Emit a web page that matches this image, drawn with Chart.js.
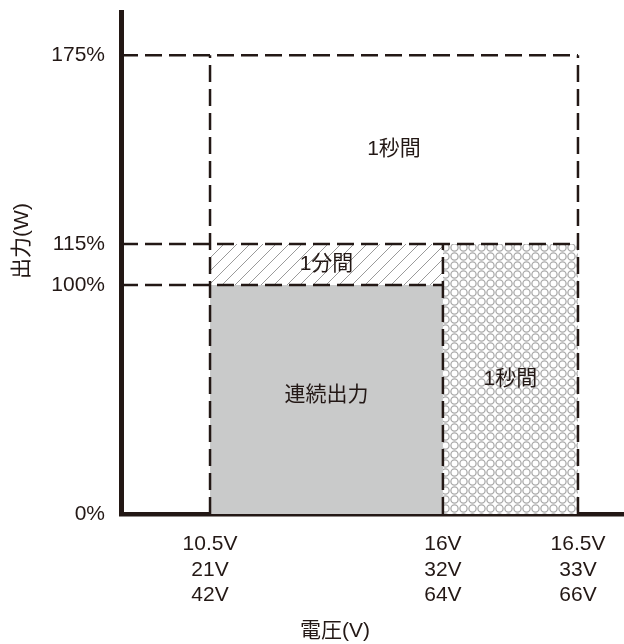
<!DOCTYPE html>
<html>
<head>
    <meta charset="utf-8" />
    <title>出力特性</title>
    <script src="https://cdn.jsdelivr.net/npm/chart.js@4.4.1/dist/chart.umd.min.js"></script>
    <style>
        body { margin: 0; background: #fff; }
        #chart { display: block; }
    </style>
</head>
<body>
    <canvas id="chart" width="624" height="644"></canvas>
    <script>
        // ticks: voltage (12V / 24V / 48V models) and output
        const voltTicks = [10.5, 16, 16.5];
        const voltLabels = [["10.5V", "21V", "42V"], ["16V", "32V", "64V"], ["16.5V", "33V", "66V"]];
        const powerTicks = [0, 100, 115, 175];
        const powerLabels = ["0%", "100%", "115%", "175%"];

        // zones: [x from, x to, y from, y to]
        const continuousZone = [10.5, 16, 0, 100];
        const oneMinuteZone = [10.5, 16, 100, 115];
        const highVoltZone = [16, 16.5, 0, 115];
        const peakZone = [10.5, 16.5, 115, 175];
        const zoneLabels = ["連続出力", "1分間", "1秒間", "1秒間"];

        const X_MIN = 9, X_MAX = 17.5, Y_MIN = 0, Y_MAX = 190;

        // dashed guide lines [x1, y1, x2, y2]
        const guides = [
            [X_MIN, 175, 16.5, 175],
            [X_MIN, 115, 16.5, 115],
            [X_MIN, 100, 16, 100],
            [10.5, 0, 10.5, 175],
            [16, 0, 16, 115],
            [16.5, 0, 16.5, 175]
        ];

        const INK = '#231815';

        // the drawing's axes are not linear: each scale maps values by stops (value -> fraction of axis)
        const scaleStops = {
            x: [[X_MIN, 0], [10.5, 0.177], [16, 0.640], [16.5, 0.9085], [X_MAX, 1]],
            y: [[Y_MIN, 0], [100, 0.456], [115, 0.538], [175, 0.914], [Y_MAX, 1]]
        };
        const scaleTicks = { x: voltTicks, y: powerTicks };

        class PiecewiseScale extends Chart.LinearScale {
            determineDataLimits() {
                const s = scaleStops[this.id];
                this.min = s[0][0];
                this.max = s[s.length - 1][0];
            }
            buildTicks() {
                return scaleTicks[this.id].map(v => ({ value: v }));
            }
            getPixelForValue(v) {
                const s = scaleStops[this.id];
                let i = 1;
                while (i < s.length - 1 && v > s[i][0]) i++;
                const [v0, f0] = s[i - 1], [v1, f1] = s[i];
                return this.getPixelForDecimal(f0 + (v - v0) / (v1 - v0) * (f1 - f0));
            }
            getValueForPixel(p) {
                const s = scaleStops[this.id];
                const d = this.getDecimalForPixel(p);
                let i = 1;
                while (i < s.length - 1 && d > s[i][1]) i++;
                const [v0, f0] = s[i - 1], [v1, f1] = s[i];
                return v0 + (d - f0) / (f1 - f0) * (v1 - v0);
            }
        }
        PiecewiseScale.id = 'piecewise';
        PiecewiseScale.defaults = {};
        Chart.register(PiecewiseScale);

        /* fill patterns */
        function hatchPattern() {
            const c = document.createElement('canvas');
            c.width = 13; c.height = 13;
            const g = c.getContext('2d');
            g.strokeStyle = '#9a9a9a';
            g.lineWidth = 1;
            g.beginPath();
            g.moveTo(-1, 14); g.lineTo(14, -1);
            g.moveTo(-7, 7); g.lineTo(7, -7);
            g.moveTo(6, 20); g.lineTo(20, 6);
            g.stroke();
            return g.createPattern(c, 'repeat');
        }
        function circlePattern() {
            const c = document.createElement('canvas');
            c.width = 9; c.height = 9;
            const g = c.getContext('2d');
            g.fillStyle = '#fff';
            g.fillRect(0, 0, 9, 9);
            g.strokeStyle = '#aaaaaa';
            g.lineWidth = 1.3;
            g.beginPath();
            g.arc(4.5, 4.5, 3.6, 0, Math.PI * 2);
            g.stroke();
            return g.createPattern(c, 'repeat');
        }

        function zoneDataset(z, bg) {
            return {
                data: [{ x: z[0], y: z[3] }, { x: z[1], y: z[3] }],
                fill: z[2] === 0 ? 'origin' : { value: z[2] },
                backgroundColor: bg,
                borderColor: 'transparent',
                borderWidth: 0,
                pointRadius: 0
            };
        }

        const datasets = [];
        guides.forEach(g => datasets.push({
            data: [{ x: g[0], y: g[1] }, { x: g[2], y: g[3] }],
            borderColor: INK,
            borderWidth: 2.5,
            borderDash: [17, 7],
            pointRadius: 0,
            fill: false,
            order: 0
        }));
        datasets.push(Object.assign(zoneDataset(continuousZone, '#c9caca'), { order: 1 }));
        datasets.push(Object.assign(zoneDataset(oneMinuteZone, hatchPattern()), { order: 1 }));
        datasets.push(Object.assign(zoneDataset(highVoltZone, circlePattern()), { order: 1 }));

        const zones = [continuousZone, oneMinuteZone, peakZone, highVoltZone];

        const labelPlugin = {
            id: 'labels',
            afterDatasetsDraw(chart) {
                const { ctx, scales: { x, y } } = chart;
                ctx.save();
                ctx.fillStyle = INK;
                ctx.textAlign = 'center';
                ctx.textBaseline = 'middle';
                ctx.font = '21px "Liberation Sans", "Noto Sans CJK JP"';
                zones.forEach((z, i) => {
                    const cx = (x.getPixelForValue(z[0]) + x.getPixelForValue(z[1])) / 2;
                    let cy = (y.getPixelForValue(z[2]) + y.getPixelForValue(z[3])) / 2;
                    if (i === 0) cy -= 4;
                    ctx.fillText(zoneLabels[i], cx, cy);
                });
                // axis titles
                ctx.fillText('電圧(V)', 335, 631);
                ctx.translate(22, 241);
                ctx.rotate(-Math.PI / 2);
                ctx.fillText('出力(W)', 0, 0);
                ctx.restore();
            }
        };

        const tickFont = { family: '"Liberation Sans", "Noto Sans CJK JP"', size: 21 };

        function noEdgePadding(s) {
            s.paddingTop = 0; s.paddingBottom = 0;
            s.paddingLeft = 0; s.paddingRight = 0;
        }

        new Chart(document.getElementById('chart'), {
            type: 'line',
            data: { datasets: datasets },
            options: {
                responsive: false,
                animation: false,
                devicePixelRatio: 1,
                layout: { padding: { top: 12, right: 0, left: 0, bottom: 0 } },
                plugins: {
                    legend: { display: false },
                    tooltip: { enabled: false }
                },
                scales: {
                    x: {
                        type: 'piecewise',
                        grid: { display: false, drawTicks: false },
                        border: { display: true, color: INK, width: 4.5 },
                        ticks: {
                            color: INK,
                            font: tickFont,
                            padding: 18,
                            maxRotation: 0,
                            autoSkip: false,
                            callback: (v, i) => voltLabels[i]
                        },
                        afterFit: s => { s.height = 130; noEdgePadding(s); }
                    },
                    y: {
                        type: 'piecewise',
                        grid: { display: false, drawTicks: false },
                        border: { display: true, color: INK, width: 5 },
                        ticks: {
                            color: INK,
                            font: tickFont,
                            padding: 16,
                            autoSkip: false,
                            callback: (v, i) => powerLabels[i]
                        },
                        afterFit: s => { s.width = 121; noEdgePadding(s); }
                    }
                }
            },
            plugins: [labelPlugin]
        });
    </script>
</body>
</html>
